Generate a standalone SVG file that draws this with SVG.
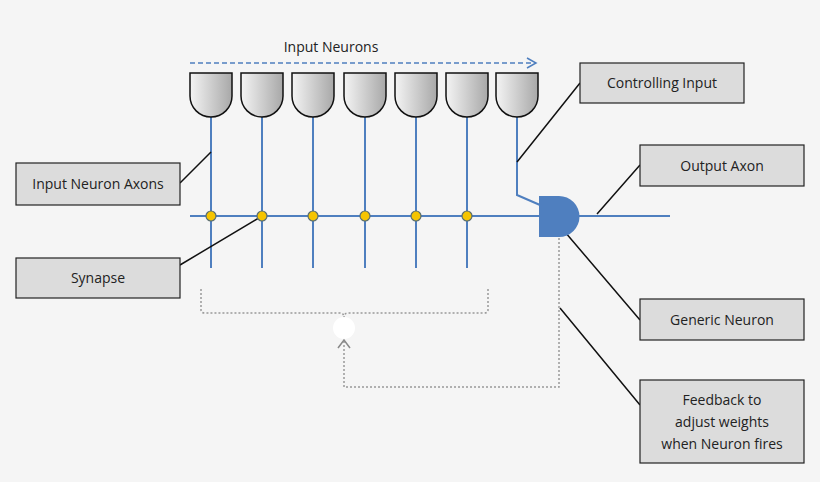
<svg xmlns="http://www.w3.org/2000/svg" width="820" height="482" viewBox="0 0 820 482">
<defs>
<linearGradient id="g" x1="0" x2="1" y1="0" y2="0"><stop offset="0" stop-color="#f4f4f4"/><stop offset="1" stop-color="#a8a8a8"/></linearGradient>
<marker id="oa" markerWidth="12" markerHeight="12" refX="10" refY="6" orient="auto" markerUnits="userSpaceOnUse"><path d="M1,1 L10,6 L1,11" fill="none" stroke="#4f7fbf" stroke-width="1.5"/></marker>
<marker id="ga" markerWidth="14" markerHeight="14" refX="7" refY="2" orient="0" markerUnits="userSpaceOnUse"><path d="M1,10 L7,2 L13,10" fill="none" stroke="#888" stroke-width="1.5"/></marker>
</defs>
<style>
.box{fill:#dcdcdc;stroke:#222;stroke-width:1.2}
.t{font-family:"Open Sans","Liberation Sans",sans-serif;font-size:14px;fill:#222;text-anchor:middle}
.ax{stroke:#4f7fbf;stroke-width:2;fill:none}
.ld{stroke:#111;stroke-width:1.5;fill:none}
.dot{stroke:#999;stroke-width:1.5;stroke-dasharray:2 2;fill:none}
.n{fill:url(#g);stroke:#111;stroke-width:1.5}
.s{fill:#f5c400;stroke:#5a6e70;stroke-width:1.2}
</style>
<rect width="820" height="482" fill="#f5f5f5"/>
<text class="t" x="331" y="52">Input Neurons</text>
<g id="connectors">
<line x1="190" y1="63" x2="536" y2="63" stroke="#4f7fbf" stroke-width="1.5" stroke-dasharray="5 3" marker-end="url(#oa)"/>
<path class="ax" d="M211,113V268M262,113V268M313,113V268M365,113V268M416,113V268M467,113V268"/>
<path class="ax" d="M190,216H540M579,216H670"/>
<path class="ax" d="M517,113V195L540,205"/>
<path class="dot" d="M201,289V310Q201,313 205,313H340Q344,313 344,318M488,289V310Q488,313 484,313H348Q344,313 344,318"/>
<circle cx="344" cy="328" r="11" fill="#fff"/>
<path class="dot" d="M559,238V387H344V340" marker-end="url(#ga)"/>
<path class="ld" d="M180,183L211,152M180,265L262,216M580,83L517,162M640,165L597,214M640,320L565,232M640,405L560,308"/>
</g>
<g id="neurons">
<path class="n" d="M190,73H232V96A21,21 0 0 1 190,96Z"/>
<path class="n" d="M241,73H283V96A21,21 0 0 1 241,96Z"/>
<path class="n" d="M292,73H334V96A21,21 0 0 1 292,96Z"/>
<path class="n" d="M344,73H386V96A21,21 0 0 1 344,96Z"/>
<path class="n" d="M395,73H437V96A21,21 0 0 1 395,96Z"/>
<path class="n" d="M446,73H488V96A21,21 0 0 1 446,96Z"/>
<path class="n" d="M496,73H538V96A21,21 0 0 1 496,96Z"/>
</g>
<g id="synapses">
<ellipse class="s" cx="211" cy="216" rx="5" ry="5"/><ellipse class="s" cx="262" cy="216" rx="5" ry="5"/><ellipse class="s" cx="313" cy="216" rx="5" ry="5"/><ellipse class="s" cx="365" cy="216" rx="5" ry="5"/><ellipse class="s" cx="416" cy="216" rx="5" ry="5"/><ellipse class="s" cx="467" cy="216" rx="5" ry="5"/>
</g>
<g id="generic"><path d="M539,196H559A20.5,20.5 0 0 1 559,237H539Z" fill="#4f7fbf"/></g>
<g id="l1"><rect class="box" x="16" y="163" width="164" height="42"/><text class="t" x="98" y="189">Input Neuron Axons</text></g>
<g id="l2"><rect class="box" x="16" y="258" width="164" height="40"/><text class="t" x="98" y="283">Synapse</text></g>
<g id="l3"><rect class="box" x="580" y="63" width="164" height="40"/><text class="t" x="662" y="88">Controlling Input</text></g>
<g id="l4"><rect class="box" x="640" y="145" width="164" height="41"/><text class="t" x="722" y="171">Output Axon</text></g>
<g id="l5"><rect class="box" x="640" y="299" width="164" height="41"/><text class="t" x="722" y="325">Generic Neuron</text></g>
<g id="l6"><rect class="box" x="640" y="380" width="164" height="83"/><text class="t" x="722" y="405">Feedback to</text><text class="t" x="722" y="427">adjust weights</text><text class="t" x="722" y="449">when Neuron fires</text></g>
</svg>
